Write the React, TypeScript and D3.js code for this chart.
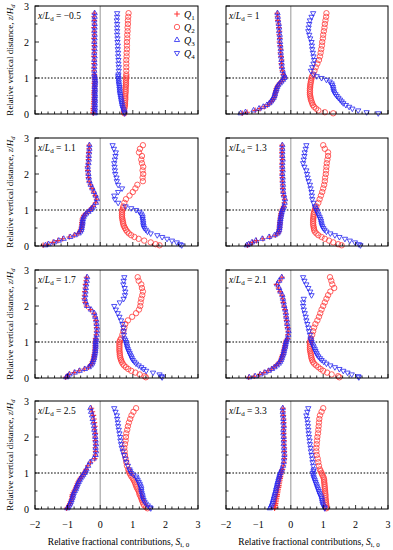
import React from "react";
import * as d3 from "d3";

// measurement heights z/Hd (dense near the ground, coarser above the building height)
const zLevels = [
  0.02, 0.05, 0.1, 0.15, 0.2, 0.25, 0.3, 0.35, 0.4, 0.45, 0.5, 0.55, 0.6, 0.65, 0.7, 0.75, 0.8, 0.85, 0.9, 0.95, 1.0, 1.05, 1.1,
  1.2, 1.3, 1.4, 1.5, 1.6, 1.7, 1.8, 1.9, 2.0, 2.1, 2.2, 2.3, 2.4, 2.5, 2.6, 2.7, 2.8,
];

const positions = ["\u22120.5", "1", "1.1", "1.3", "1.7", "2.1", "2.5", "3.3"];
const xTicks = [-2, -1, 0, 1, 2, 3];
const yTicks = [0, 1, 2, 3];
const quadrants = ["1", "2", "3", "4"];

// x/Ld = -0.5
const q1_p1 = [-0.21,-0.22,-0.2,-0.21,-0.2,-0.19,-0.2,-0.19,-0.18,-0.19,-0.18,-0.19,-0.18,-0.18,-0.17,-0.18,-0.17,-0.18,-0.17,-0.17,-0.18,-0.17,-0.18,-0.19,-0.19,-0.19,-0.18,-0.19,-0.18,-0.19,-0.18,-0.18,-0.19,-0.18,-0.18,-0.19,-0.18,-0.18,-0.19,-0.18];
const q2_p1 = [0.74,0.73,0.73,0.74,0.75,0.76,0.76,0.76,0.77,0.77,0.77,0.77,0.78,0.78,0.78,0.78,0.79,0.79,0.79,0.79,0.8,0.8,0.8,0.8,0.8,0.8,0.8,0.81,0.81,0.82,0.82,0.82,0.83,0.83,0.84,0.84,0.85,0.85,0.86,0.87];
const q3_p1 = [-0.17,-0.16,-0.17,-0.16,-0.17,-0.16,-0.17,-0.16,-0.16,-0.17,-0.16,-0.16,-0.17,-0.16,-0.16,-0.17,-0.16,-0.16,-0.15,-0.16,-0.16,-0.17,-0.18,-0.18,-0.18,-0.17,-0.18,-0.17,-0.18,-0.17,-0.17,-0.18,-0.17,-0.17,-0.18,-0.17,-0.17,-0.18,-0.17,-0.17];
const q4_p1 = [0.75,0.74,0.72,0.7,0.68,0.67,0.66,0.65,0.64,0.63,0.62,0.61,0.6,0.6,0.59,0.59,0.58,0.57,0.57,0.56,0.56,0.55,0.56,0.57,0.57,0.56,0.56,0.55,0.55,0.54,0.54,0.53,0.53,0.52,0.52,0.52,0.52,0.51,0.52,0.52];

// x/Ld = 1
const q1_p2 = [-1.5,-1.35,-1.1,-0.95,-0.82,-0.72,-0.65,-0.6,-0.56,-0.52,-0.5,-0.49,-0.47,-0.46,-0.45,-0.43,-0.4,-0.35,-0.3,-0.25,-0.2,-0.2,-0.23,-0.26,-0.28,-0.29,-0.28,-0.3,-0.32,-0.31,-0.33,-0.35,-0.34,-0.36,-0.35,-0.37,-0.38,-0.4,-0.41,-0.42];
const q2_p2 = [1.31,1.05,0.85,0.78,0.72,0.68,0.66,0.64,0.62,0.61,0.6,0.59,0.59,0.59,0.59,0.6,0.6,0.61,0.62,0.63,0.64,0.66,0.69,0.73,0.77,0.82,0.87,0.9,0.92,0.94,0.96,0.97,0.99,1.0,1.02,1.04,1.05,1.07,1.09,1.1];
const q3_p2 = [-1.55,-1.4,-1.15,-0.98,-0.85,-0.74,-0.66,-0.61,-0.57,-0.53,-0.51,-0.49,-0.48,-0.46,-0.44,-0.42,-0.39,-0.34,-0.29,-0.24,-0.2,-0.19,-0.22,-0.25,-0.27,-0.28,-0.29,-0.3,-0.31,-0.31,-0.32,-0.33,-0.34,-0.34,-0.36,-0.36,-0.37,-0.39,-0.4,-0.41];
const q4_p2 = [2.7,2.34,2.08,1.9,1.8,1.7,1.62,1.57,1.52,1.47,1.42,1.38,1.34,1.32,1.31,1.3,1.28,1.26,1.2,1.1,0.95,0.8,0.7,0.62,0.66,0.7,0.72,0.7,0.68,0.66,0.65,0.64,0.6,0.57,0.54,0.55,0.57,0.59,0.64,0.69];

// x/Ld = 1.1
const q1_p3 = [-1.75,-1.62,-1.45,-1.3,-1.15,-0.95,-0.8,-0.68,-0.62,-0.6,-0.58,-0.57,-0.56,-0.56,-0.55,-0.55,-0.53,-0.5,-0.45,-0.38,-0.32,-0.27,-0.22,-0.14,-0.11,-0.15,-0.2,-0.25,-0.3,-0.34,-0.36,-0.37,-0.38,-0.39,-0.37,-0.36,-0.36,-0.35,-0.34,-0.34];
const q2_p3 = [1.82,1.7,1.55,1.35,1.18,1.05,0.95,0.88,0.83,0.79,0.76,0.73,0.71,0.7,0.69,0.68,0.67,0.67,0.67,0.67,0.68,0.7,0.71,0.74,0.79,0.9,1.0,1.08,1.14,1.31,1.3,1.32,1.3,1.32,1.28,1.26,1.28,1.19,1.22,1.31];
const q3_p3 = [-1.68,-1.58,-1.42,-1.27,-1.12,-0.92,-0.78,-0.66,-0.61,-0.58,-0.57,-0.56,-0.55,-0.54,-0.54,-0.53,-0.51,-0.48,-0.43,-0.36,-0.3,-0.25,-0.2,-0.13,-0.1,-0.14,-0.19,-0.24,-0.29,-0.33,-0.35,-0.36,-0.37,-0.38,-0.36,-0.35,-0.35,-0.34,-0.33,-0.33];
const q4_p3 = [2.5,2.45,2.35,2.2,2.05,1.9,1.75,1.55,1.45,1.4,1.35,1.33,1.32,1.32,1.31,1.3,1.3,1.28,1.25,1.2,1.1,0.95,0.78,0.55,0.45,0.43,0.55,0.67,0.55,0.51,0.5,0.46,0.45,0.44,0.43,0.45,0.47,0.48,0.42,0.38];

// x/Ld = 1.3
const q1_p4 = [-1.34,-1.28,-1.18,-1.06,-0.86,-0.65,-0.48,-0.4,-0.37,-0.36,-0.35,-0.35,-0.34,-0.34,-0.33,-0.33,-0.32,-0.31,-0.3,-0.29,-0.27,-0.25,-0.22,-0.2,-0.19,-0.22,-0.24,-0.25,-0.25,-0.26,-0.26,-0.27,-0.26,-0.27,-0.27,-0.26,-0.27,-0.27,-0.27,-0.27];
const q2_p4 = [1.57,1.46,1.31,1.18,1.05,0.95,0.85,0.79,0.74,0.72,0.71,0.7,0.69,0.69,0.69,0.69,0.7,0.7,0.71,0.72,0.74,0.76,0.79,0.85,0.89,0.93,0.97,1.0,1.03,1.05,1.06,1.08,1.09,1.1,1.11,1.13,1.15,1.15,1.05,1.0];
const q3_p4 = [-1.36,-1.3,-1.2,-1.08,-0.88,-0.67,-0.5,-0.41,-0.38,-0.36,-0.35,-0.34,-0.34,-0.33,-0.33,-0.32,-0.31,-0.3,-0.29,-0.28,-0.26,-0.24,-0.21,-0.19,-0.18,-0.21,-0.23,-0.24,-0.24,-0.25,-0.25,-0.26,-0.25,-0.26,-0.26,-0.25,-0.26,-0.26,-0.26,-0.26];
const q4_p4 = [2.15,2.1,1.98,1.82,1.67,1.5,1.36,1.22,1.1,1.04,1.0,0.97,0.95,0.94,0.93,0.91,0.89,0.86,0.84,0.81,0.79,0.76,0.74,0.7,0.66,0.65,0.64,0.61,0.59,0.55,0.52,0.5,0.48,0.42,0.38,0.4,0.42,0.43,0.46,0.48];

// x/Ld = 1.7
const q1_p5 = [-1.06,-1.01,-0.96,-0.8,-0.65,-0.49,-0.36,-0.3,-0.26,-0.24,-0.22,-0.2,-0.19,-0.18,-0.17,-0.16,-0.16,-0.15,-0.15,-0.15,-0.15,-0.14,-0.14,-0.12,-0.11,-0.11,-0.12,-0.13,-0.16,-0.19,-0.3,-0.42,-0.46,-0.49,-0.48,-0.47,-0.46,-0.45,-0.43,-0.42];
const q2_p5 = [1.4,1.36,1.21,1.08,0.95,0.86,0.79,0.73,0.69,0.66,0.64,0.62,0.61,0.6,0.6,0.59,0.59,0.59,0.59,0.59,0.59,0.61,0.64,0.68,0.71,0.74,0.77,0.85,0.98,1.1,1.19,1.23,1.24,1.26,1.29,1.31,1.28,1.26,1.18,1.15];
const q3_p5 = [-1.04,-1.0,-0.94,-0.78,-0.63,-0.47,-0.35,-0.29,-0.25,-0.23,-0.21,-0.19,-0.18,-0.17,-0.16,-0.15,-0.15,-0.14,-0.14,-0.14,-0.14,-0.13,-0.13,-0.11,-0.1,-0.1,-0.11,-0.12,-0.15,-0.18,-0.28,-0.4,-0.44,-0.47,-0.46,-0.45,-0.44,-0.43,-0.41,-0.4];
const q4_p5 = [1.9,1.88,1.82,1.62,1.41,1.33,1.26,1.18,1.1,1.05,1.0,0.97,0.95,0.92,0.9,0.87,0.85,0.83,0.82,0.8,0.79,0.77,0.74,0.73,0.72,0.71,0.68,0.64,0.59,0.54,0.48,0.43,0.6,0.72,0.76,0.77,0.75,0.71,0.72,0.74];

// x/Ld = 2.1
const q1_p6 = [-1.3,-1.13,-0.96,-0.83,-0.7,-0.6,-0.52,-0.45,-0.39,-0.35,-0.31,-0.29,-0.27,-0.25,-0.23,-0.22,-0.21,-0.19,-0.18,-0.17,-0.16,-0.14,-0.1,-0.09,-0.08,-0.1,-0.12,-0.13,-0.15,-0.16,-0.18,-0.21,-0.23,-0.25,-0.27,-0.33,-0.38,-0.44,-0.34,-0.27];
const q2_p6 = [1.5,1.46,1.26,1.12,1.0,0.92,0.85,0.78,0.72,0.68,0.66,0.64,0.63,0.62,0.61,0.6,0.59,0.59,0.59,0.59,0.59,0.61,0.62,0.66,0.69,0.72,0.76,0.82,0.87,0.91,0.95,1.0,1.05,1.1,1.15,1.22,1.34,1.28,1.25,1.21];
const q3_p6 = [-1.28,-1.1,-0.94,-0.8,-0.68,-0.58,-0.5,-0.43,-0.37,-0.33,-0.3,-0.28,-0.26,-0.24,-0.22,-0.21,-0.2,-0.18,-0.17,-0.16,-0.15,-0.13,-0.1,-0.08,-0.07,-0.09,-0.11,-0.12,-0.14,-0.15,-0.17,-0.2,-0.22,-0.24,-0.26,-0.32,-0.36,-0.42,-0.36,-0.28];
const q4_p6 = [2.1,2.08,1.88,1.75,1.62,1.5,1.36,1.22,1.1,1.02,0.95,0.9,0.85,0.81,0.79,0.76,0.74,0.71,0.69,0.66,0.64,0.62,0.61,0.59,0.56,0.54,0.51,0.48,0.46,0.43,0.4,0.38,0.38,0.4,0.64,0.6,0.54,0.48,0.42,0.38];

// x/Ld = 2.5
const q1_p7 = [-1.03,-1.0,-0.96,-0.93,-0.91,-0.89,-0.87,-0.86,-0.85,-0.83,-0.8,-0.77,-0.74,-0.72,-0.7,-0.68,-0.65,-0.61,-0.57,-0.53,-0.49,-0.46,-0.43,-0.38,-0.3,-0.17,-0.15,-0.14,-0.15,-0.14,-0.15,-0.16,-0.15,-0.17,-0.16,-0.18,-0.19,-0.21,-0.24,-0.27];
const q2_p7 = [1.45,1.41,1.35,1.32,1.3,1.28,1.26,1.24,1.21,1.2,1.18,1.15,1.12,1.1,1.08,1.06,1.03,1.0,0.96,0.93,0.9,0.88,0.86,0.82,0.8,0.78,0.76,0.75,0.74,0.76,0.78,0.79,0.8,0.83,0.85,0.88,0.92,0.96,1.02,1.1];
const q3_p7 = [-1.01,-0.98,-0.95,-0.92,-0.9,-0.88,-0.86,-0.84,-0.83,-0.81,-0.78,-0.75,-0.73,-0.71,-0.69,-0.66,-0.63,-0.6,-0.56,-0.52,-0.48,-0.45,-0.42,-0.37,-0.31,-0.2,-0.14,-0.13,-0.14,-0.13,-0.14,-0.15,-0.16,-0.18,-0.19,-0.21,-0.23,-0.25,-0.28,-0.3];
const q4_p7 = [1.55,1.52,1.46,1.4,1.36,1.33,1.31,1.3,1.29,1.27,1.26,1.26,1.25,1.23,1.21,1.18,1.15,1.12,1.1,1.02,0.95,0.92,0.9,0.85,0.8,0.77,0.73,0.69,0.66,0.64,0.62,0.61,0.59,0.57,0.55,0.54,0.52,0.51,0.47,0.43];

// x/Ld = 3.3
const q1_p8 = [-0.5,-0.49,-0.48,-0.47,-0.46,-0.45,-0.44,-0.43,-0.42,-0.41,-0.4,-0.39,-0.38,-0.37,-0.36,-0.35,-0.34,-0.33,-0.32,-0.31,-0.3,-0.28,-0.26,-0.23,-0.21,-0.2,-0.19,-0.2,-0.2,-0.21,-0.21,-0.21,-0.22,-0.22,-0.21,-0.22,-0.22,-0.23,-0.24,-0.24];
const q2_p8 = [1.1,1.1,1.1,1.09,1.08,1.08,1.07,1.07,1.07,1.06,1.06,1.05,1.05,1.04,1.04,1.03,1.03,1.02,1.0,0.97,0.95,0.92,0.9,0.87,0.85,0.83,0.8,0.79,0.79,0.8,0.81,0.82,0.84,0.85,0.86,0.87,0.88,0.9,0.95,1.0];
const q3_p8 = [-0.65,-0.62,-0.6,-0.58,-0.56,-0.55,-0.53,-0.52,-0.5,-0.49,-0.47,-0.46,-0.45,-0.43,-0.42,-0.41,-0.39,-0.38,-0.36,-0.35,-0.33,-0.3,-0.28,-0.24,-0.22,-0.21,-0.2,-0.21,-0.21,-0.22,-0.22,-0.22,-0.23,-0.23,-0.22,-0.23,-0.23,-0.24,-0.25,-0.25];
const q4_p8 = [1.05,1.04,1.0,0.98,0.97,0.96,0.95,0.93,0.9,0.88,0.86,0.84,0.82,0.8,0.78,0.76,0.74,0.72,0.7,0.69,0.68,0.7,0.71,0.69,0.67,0.66,0.64,0.62,0.61,0.59,0.58,0.56,0.55,0.54,0.53,0.52,0.5,0.48,0.51,0.54];

const panels = [
  [q1_p1, q2_p1, q3_p1, q4_p1],
  [q1_p2, q2_p2, q3_p2, q4_p2],
  [q1_p3, q2_p3, q3_p3, q4_p3],
  [q1_p4, q2_p4, q3_p4, q4_p4],
  [q1_p5, q2_p5, q3_p5, q4_p5],
  [q1_p6, q2_p6, q3_p6, q4_p6],
  [q1_p7, q2_p7, q3_p7, q4_p7],
  [q1_p8, q2_p8, q3_p8, q4_p8],
];

const width = 393;
const height = 550;
const colLeft = [35, 226];
const colRight = [198, 388];
const rowTop = [6, 138, 270, 401];
const plotH = 108;
const font = "Liberation Serif, Times New Roman, serif";
const red = "#ff3838";
const blue = "#2424f0";

const plusPath = d3.symbol(d3.symbolPlus, 12)();
const triPath = d3.symbol(d3.symbolTriangle, 12)();

function Marker({ q, cx, cy }: { q: number; cx: number; cy: number }) {
  if (q === 0)
    return <path d={plusPath} transform={`translate(${cx},${cy})`} fill="none" stroke={red} strokeWidth={1.1} />;
  if (q === 1) return <circle cx={cx} cy={cy} r={2.7} fill="none" stroke={red} strokeWidth={0.8} />;
  if (q === 2)
    return <path d={triPath} transform={`translate(${cx},${cy})`} fill="none" stroke={blue} strokeWidth={0.8} />;
  return (
    <path d={triPath} transform={`translate(${cx},${cy}) rotate(180)`} fill="none" stroke={blue} strokeWidth={0.8} />
  );
}

function Panel({ i }: { i: number }) {
  const col = i % 2;
  const row = Math.floor(i / 2);
  const x = d3.scaleLinear().domain([-2, 3]).range([colLeft[col], colRight[col]]);
  const y = d3.scaleLinear().domain([0, 3]).range([rowTop[row] + plotH, rowTop[row]]);
  const minorX = d3.range(-20, 31, 2).map(v => v / 10);
  const minorY = d3.range(0, 7).map(v => v / 2);
  const series = panels[i];

  return (
    <g>
      <line x1={x(0)} x2={x(0)} y1={y(0)} y2={y(3)} stroke="#a8a8a8" strokeWidth={1.2} />
      <line x1={x(-2)} x2={x(3)} y1={y(1)} y2={y(1)} stroke="#000" strokeWidth={1} strokeDasharray="1.6,1.6" />
      {series.map((vals, q) => (
        <g key={q}>
          {vals.map((v, k) => (
            <Marker key={k} q={q} cx={x(v)} cy={y(zLevels[k])} />
          ))}
        </g>
      ))}
      <rect x={x(-2)} y={y(3)} width={x(3) - x(-2)} height={y(0) - y(3)} fill="none" stroke="#000" strokeWidth={1} />
      {minorX.map(t => (
        <line key={"mx" + t} x1={x(t)} x2={x(t)} y1={y(0)} y2={y(0) - (Number.isInteger(t) ? 4 : 2.5)} stroke="#000" strokeWidth={0.8} />
      ))}
      {minorY.map(t => (
        <line key={"my" + t} x1={x(-2)} x2={x(-2) + (Number.isInteger(t) ? 4 : 2.5)} y1={y(t)} y2={y(t)} stroke="#000" strokeWidth={0.8} />
      ))}
      {col === 0 &&
        yTicks.map(t => (
          <text key={"yl" + t} x={x(-2) - 6} y={y(t) + 3.5} textAnchor="end" fontSize={10}>
            {t}
          </text>
        ))}
      {row === 3 &&
        xTicks.map(t => (
          <text key={"xl" + t} x={x(t)} y={528} textAnchor="middle" fontSize={10}>
            {t < 0 ? "\u2212" + Math.abs(t) : t}
          </text>
        ))}
      <text x={x(-2) + 3} y={y(3) + 13} fontSize={9.5}>
        <tspan fontStyle="italic">x</tspan>/<tspan fontStyle="italic">L</tspan>
        <tspan fontSize={7} dy={2}>d</tspan>
        <tspan dy={-2}> = {positions[i]}</tspan>
      </text>
      {col === 0 && (
        <text
          transform={`translate(13,${(y(0) + y(3)) / 2}) rotate(-90)`}
          textAnchor="middle"
          fontSize={9}
        >
          Relative vertical distance, <tspan fontStyle="italic">z</tspan>/<tspan fontStyle="italic">H</tspan>
          <tspan fontSize={6.5} fontStyle="italic" dy={2}>d</tspan>
        </text>
      )}
      {row === 3 && (
        <text x={(x(-2) + x(3)) / 2 + 2} y={545} textAnchor="middle" fontSize={9.5}>
          Relative fractional contributions, <tspan fontStyle="italic">S</tspan>
          <tspan fontSize={7} dy={2}>i, 0</tspan>
        </text>
      )}
      {i === 0 &&
        quadrants.map((lab, q) => (
          <g key={"lg" + q}>
            <Marker q={q} cx={177} cy={14 + q * 13} />
            <text x={184} y={14 + q * 13 + 3.5} fontSize={10}>
              <tspan fontStyle="italic">Q</tspan>
              <tspan fontSize={7} dy={2}>{lab}</tspan>
            </text>
          </g>
        ))}
    </g>
  );
}

export default function App() {
  return (
    <svg
      width={width}
      height={height}
      style={{ position: "absolute", left: 0, top: 0, background: "#fff", fontFamily: font }}
    >
      {panels.map((_, i) => (
        <Panel key={i} i={i} />
      ))}
    </svg>
  );
}
